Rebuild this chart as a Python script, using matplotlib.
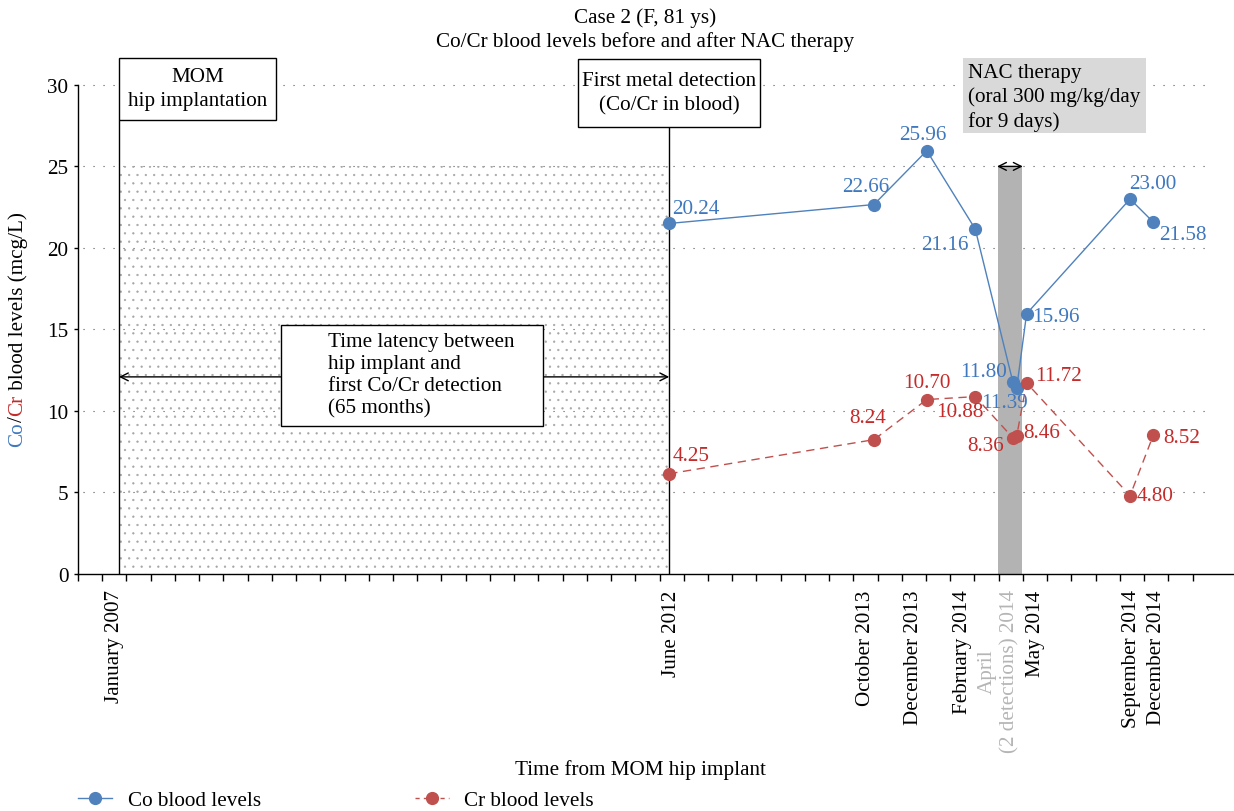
import matplotlib
matplotlib.use("Agg")
import matplotlib.pyplot as plt
from matplotlib.patches import Rectangle
from matplotlib.lines import Line2D

plt.rcParams['font.family'] = ['Liberation Serif', 'DejaVu Serif']
plt.rcParams['hatch.linewidth'] = 0.4

#time axis is in "tick units" (one small tick = one unit)
sample_x = [24.40, 32.85, 35.03, 37.03, 38.58, 38.74, 39.15, 43.42, 44.38]
co_levels = [21.5, 22.66, 25.96, 21.16, 11.80, 11.39, 15.96, 23.00, 21.58]
cr_levels = [6.15, 8.24, 10.70, 10.88, 8.36, 8.46, 11.72, 4.80, 8.52]
co_text = ['20.24', '22.66', '25.96', '21.16', '11.80', '11.39', '15.96', '23.00', '21.58']
cr_text = ['4.25', '8.24', '10.70', '10.88', '8.36', '8.46', '11.72', '4.80', '8.52']

date_labels = ['January 2007', 'June 2012', 'October 2013', 'December 2013',
               'February 2014', 'April\n(2 detections) 2014', 'May 2014',
               'September 2014', 'December 2014']
date_label_x = [1.5, 24.5, 32.5, 34.5, 36.5, 38.0, 39.5, 43.5, 44.5]

implant_x = 1.69
detect_x = 24.40
nac_x = (37.98, 38.94)
y_ticks = [0, 5, 10, 15, 20, 25, 30]

#colours
co_col = '#4f81bd'
co_txt = '#3f78bf'
cr_col = '#c0504d'
cr_txt = '#c42b2b'
fs = 15.2

fig = plt.figure(figsize=(12.34, 8.12), dpi=100)
ax = fig.add_axes([78/1234, 237/812, 1156/1234, 525/812])
ax.set_xlim(0, 47.71)
ax.set_ylim(0, 32.2)

#dotted grid
ax.hlines(y_ticks[1:], 0.2, 46.8, colors='#555555', linewidth=0.8,
          linestyles=(0, (1, 8)), zorder=0)

#stippled latency area
ax.add_patch(Rectangle((implant_x, 0), detect_x - implant_x, 25, facecolor='none',
                       edgecolor='#a5a5a5', linewidth=0, hatch='..', zorder=0.5))

#NAC therapy period
ax.add_patch(Rectangle((nac_x[0], 0), nac_x[1] - nac_x[0], 25,
                       facecolor='#b3b3b3', edgecolor='none', zorder=1))
ax.annotate('', xy=(nac_x[0] - 0.05, 25), xytext=(nac_x[1] + 0.05, 25),
            arrowprops=dict(arrowstyle='<->', color='black', lw=1,
                            shrinkA=0, shrinkB=0, mutation_scale=14), zorder=6)

#vertical event lines
ax.vlines([implant_x], 0, 27.85, colors='black', linewidth=1, zorder=2)
ax.vlines([detect_x], 0, 27.4, colors='black', linewidth=1, zorder=2)

#latency arrow
ax.annotate('', xy=(implant_x, 12.09), xytext=(detect_x, 12.09),
            arrowprops=dict(arrowstyle='<->', color='black', lw=1,
                            shrinkA=0, shrinkB=0, mutation_scale=14), zorder=2)

#series
ax.plot(sample_x, co_levels, '-o', color=co_col, lw=1.0, ms=8.5,
        markeredgecolor=co_col, zorder=4)
ax.plot(sample_x, cr_levels, '--o', color=cr_col, lw=1.0, ms=8.5,
        dashes=(6, 4), markeredgecolor=cr_col, zorder=4)

co_off = [(3, 15, 'left'), (-8, 18, 'center'), (-4, 16, 'center'),
          (-7, -15, 'right'), (-6, 10, 'right'), (-12, -14, 'center'),
          (6, -3, 'left'), (23, 16, 'center'), (6, -12, 'left')]
cr_off = [(3, 18, 'left'), (-6, 22, 'center'), (0, 17, 'center'),
          (-15, -15, 'center'), (-9, -8, 'right'), (7, 4, 'left'),
          (9, 7, 'left'), (7, 0, 'left'), (10, -2, 'left')]
for x, y, t, (dx, dy, ha) in zip(sample_x, co_levels, co_text, co_off):
    ax.annotate(t, (x, y), xytext=(dx, dy), textcoords='offset pixels',
                ha=ha, va='center', color=co_txt, fontsize=fs, zorder=5)
for x, y, t, (dx, dy, ha) in zip(sample_x, cr_levels, cr_text, cr_off):
    ax.annotate(t, (x, y), xytext=(dx, dy), textcoords='offset pixels',
                ha=ha, va='center', color=cr_txt, fontsize=fs, zorder=5)

#annotation boxes
ax.add_patch(Rectangle((1.69, 27.85), 6.48, 3.81, facecolor='white',
                       edgecolor='black', lw=1, clip_on=False, zorder=6))
ax.text(4.93, 29.75, 'MOM\nhip implantation', ha='center', va='center',
        fontsize=fs, linespacing=1.35, zorder=7, clip_on=False)

ax.add_patch(Rectangle((20.64, 27.4), 7.51, 4.2, facecolor='white',
                       edgecolor='black', lw=1, clip_on=False, zorder=6))
ax.text(24.4, 29.5, 'First metal detection\n(Co/Cr in blood)', ha='center',
        va='center', fontsize=fs, linespacing=1.35, zorder=7, clip_on=False)

ax.add_patch(Rectangle((8.36, 9.06), 10.84, 6.22, facecolor='white',
                       edgecolor='black', lw=1, zorder=6))
ax.text(10.32, 12.2, 'Time latency between\nhip implant and\nfirst Co/Cr detection\n(65 months)',
        ha='left', va='center', fontsize=fs, linespacing=1.22, zorder=7)

ax.add_patch(Rectangle((36.54, 27.03), 7.54, 4.63, facecolor='#d9d9d9',
                       edgecolor='none', clip_on=False, zorder=6))
ax.text(36.73, 29.25, 'NAC therapy\n(oral 300 mg/kg/day\nfor 9 days)', ha='left',
        va='center', fontsize=fs, linespacing=1.3, zorder=7, clip_on=False)

#axes styling
for s in ['top', 'right']:
    ax.spines[s].set_visible(False)
ax.spines['left'].set_bounds(0, 30)
ax.spines['left'].set_linewidth(1.0)
ax.spines['bottom'].set_linewidth(1.0)
ax.set_yticks(y_ticks)
ax.set_yticklabels([str(v) for v in y_ticks], fontsize=fs)
ax.tick_params(axis='y', length=3, width=1, pad=4)
ax.xaxis.remove_overlapping_locs = False
ax.set_xticks(range(0, 47))
ax.set_xticklabels([])
ax.tick_params(axis='x', which='major', length=5, width=1, direction='out')
ax.set_xticks(date_label_x, date_labels, minor=True)
ax.tick_params(axis='x', which='minor', length=0, pad=11, labelsize=fs,
               labelrotation=90)
for lab in ax.get_xticklabels(minor=True):
    lab.set_multialignment('center')
    if lab.get_text().startswith('April'):
        lab.set_color('#b5b5b5')

#title and axis labels
fig.text(645/1234, 1 - 30/812, 'Case 2 (F, 81 ys)\nCo/Cr blood levels before and after NAC therapy',
         ha='center', va='center', fontsize=fs, linespacing=1.25)
fig.text(640/1234, 1 - 770/812, 'Time from MOM hip implant', ha='center',
         va='center', fontsize=fs)

#y label in three colours, stacked bottom to top
renderer = fig.canvas.get_renderer()
y0 = 1 - 447/812
for part, col in [('Co', co_txt), ('/', 'black'), ('Cr', cr_txt),
                  (' blood levels (mcg/L)', 'black')]:
    t = fig.text(18/1234, y0, part, rotation=90, ha='center', va='bottom',
                 color=col, fontsize=fs)
    bb = t.get_window_extent(renderer)
    y0 += bb.height / fig.bbox.height

#legend
handles = [Line2D([], [], color=co_col, marker='o', ms=8.5, lw=1),
           Line2D([], [], color=cr_col, marker='o', ms=8.5, lw=1, dashes=(3, 3))]
fig.legend(handles, ['Co blood levels', 'Cr blood levels'], loc='center left',
           bbox_to_anchor=(78/1234, 1 - 801/812), ncol=2, frameon=False,
           fontsize=fs, handlelength=1.6, handletextpad=0.75, columnspacing=7.3,
           borderaxespad=0, borderpad=0)

fig.savefig('out.png', dpi=100)
